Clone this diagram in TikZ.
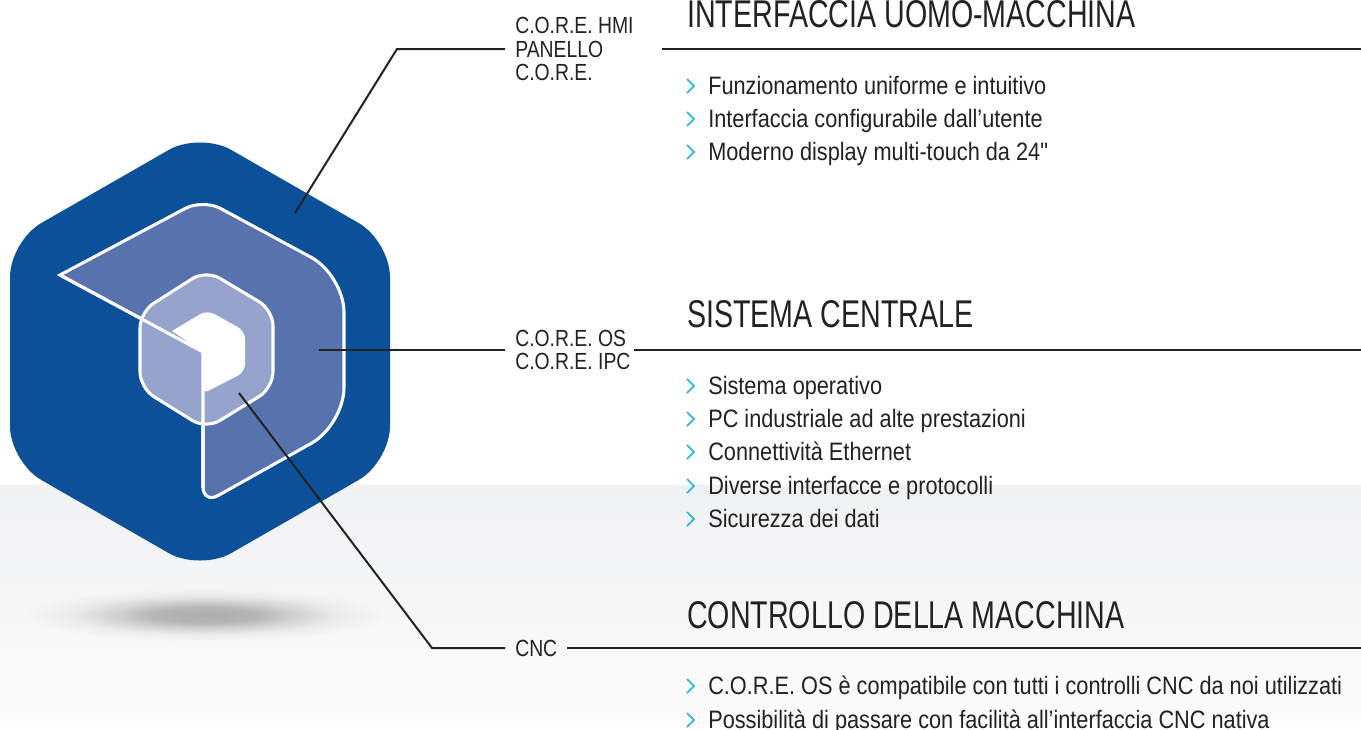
\documentclass[tikz,border=0pt]{standalone}
\usepackage{fontspec}
\setmainfont{Liberation Sans}
\newfontfamily\tagfont[FakeStretch=0.83]{Liberation Sans}
\newfontfamily\headfont[FakeStretch=0.74]{Liberation Sans}
\newfontfamily\itemfont[FakeStretch=0.862]{Liberation Sans}
\usetikzlibrary{calc,fadings}
\definecolor{hexblue}{HTML}{0B5098}
\definecolor{midblue}{HTML}{5872AE}
\definecolor{lightblue}{HTML}{95A3CD}
\definecolor{inkc}{HTML}{222222}
\definecolor{cyanb}{HTML}{1DB4EA}
\definecolor{bgtop}{HTML}{F0F1F3}
\definecolor{bgbot}{HTML}{FCFCFC}
\pgfdeclareradialshading{softshadowmask}{\pgfpointorigin}{
 color(0bp)=(white); color(7bp)=(black!12); color(12bp)=(black!48);
 color(18bp)=(black!84); color(25bp)=(black); color(50bp)=(black)}
\pgfdeclarefading{softshadow}{\pgfuseshading{softshadowmask}}
\tikzset{
 leader/.style={draw=inkc,line width=1.5pt},
 tag/.style={font=\tagfont\fontsize{17.5}{17.6}\selectfont,text=inkc,anchor=west,inner xsep=7.5pt,inner ysep=0pt,align=left},
 heading/.style={font=\headfont\fontsize{29}{32}\selectfont,text=inkc,anchor=base west,inner sep=0pt},
 item/.style={font=\itemfont\fontsize{18.9}{20}\selectfont,text=inkc,anchor=base west,inner sep=0pt},
 chev/.style={draw=cyanb,line width=1.1pt,fill=none},
 outlined/.style={draw=white,line width=2.3pt,line join=miter},
}
\newcommand{\bulletitem}[3]{%
 \node[item] (#1) at (708,#2+8) {#3};
 \draw[chev] (687,#2-7) -- (694,#2) -- (687,#2+7);}
\begin{document}
\begin{tikzpicture}[x=0.75pt,y=-0.75pt]
\useasboundingbox (0,0) rectangle (1361,729);
\fill[white] (0,0) rectangle (1361,729);
\shade[top color=bgtop,bottom color=bgbot] (0,485) rectangle (1361,725);
% shadow
\fill[black,opacity=0.3,path fading=softshadow] (205,615) ellipse [x radius=180,y radius=27];
% logo
\fill[hexblue,rounded corners=27pt] (200,132) -- (390,241) -- (390,462) -- (200,571) -- (10,462) -- (10,241) -- cycle;
\path[fill=midblue,outlined] (60,275) [rounded corners=15pt] -- (203,199) [rounded corners=28pt] -- (344,275) -- (344,425) [rounded corners=13pt] -- (203,504) [sharp corners] -- (203,352) -- cycle;
\path[fill=lightblue,outlined,rounded corners=12pt] (206,270) -- (273,310) -- (273,388) -- (206,429) -- (140,388) -- (140,312) -- cycle;
\fill[white] (172,331) [rounded corners=6pt] -- (207,310) -- (245,331) -- (245,372) [sharp corners] -- (208,391) -- (203,391) -- (203,352) -- cycle;
\draw[white,line width=2.3pt] (60,275) -- (203,352) -- (203,488);
% labels
\node[tag] (hmi) at (505,49) {C.O.R.E. HMI\\PANELLO\\C.O.R.E.};
\node[tag] (os) at (505,350) {C.O.R.E. OS\\C.O.R.E. IPC};
\node[tag] (cnc) at (505,648) {CNC};
% connectors
\coordinate (p1) at (295,213); \coordinate (k1) at (397,49);
\coordinate (r1a) at (662,49); \coordinate (r1b) at (1361,49);
\coordinate (p2) at (319,350);
\coordinate (r2a) at (634,350); \coordinate (r2b) at (1361,350);
\coordinate (p3) at (239,393); \coordinate (k3) at (432,648);
\coordinate (r3a) at (567,648); \coordinate (r3b) at (1361,648);
\draw[leader] (p1) -- (k1) -- (hmi.west);
\draw[leader] (r1a) -- (r1b);
\draw[leader] (p2) -- (os.west);
\draw[leader] (r2a) -- (r2b);
\draw[leader] (p3) -- (k3) -- (cnc.west);
\draw[leader] (r3a) -- (r3b);
% headings
\node[heading] (h1) at (687,27) {INTERFACCIA UOMO-MACCHINA};
\node[heading] (h2) at (687,327) {SISTEMA CENTRALE};
\node[heading] (h3) at (687,628) {CONTROLLO DELLA MACCHINA};
% lists
\bulletitem{a1}{86}{Funzionamento uniforme e intuitivo}
\bulletitem{a2}{119}{Interfaccia configurabile dall’utente}
\bulletitem{a3}{152}{Moderno display multi-touch da 24"}
\bulletitem{b1}{386}{Sistema operativo}
\bulletitem{b2}{419}{PC industriale ad alte prestazioni}
\bulletitem{b3}{452}{Connettività Ethernet}
\bulletitem{b4}{486}{Diverse interfacce e protocolli}
\bulletitem{b5}{519}{Sicurezza dei dati}
\bulletitem{c1}{686}{C.O.R.E. OS è compatibile con tutti i controlli CNC da noi utilizzati}
\bulletitem{c2}{720}{Possibilità di passare con facilità all’interfaccia CNC nativa}
\end{tikzpicture}
\end{document}
